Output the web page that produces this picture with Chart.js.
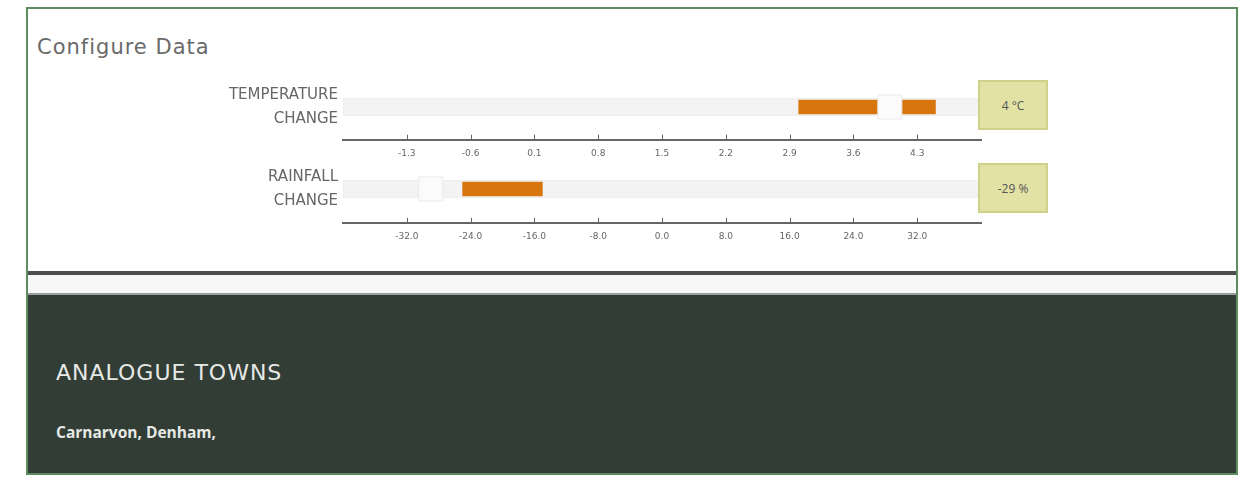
<!DOCTYPE html>
<html>
<head>
<meta charset="utf-8">
<script src="https://cdn.jsdelivr.net/npm/chart.js@4.4.1/dist/chart.umd.min.js"></script>
<style>
  body { margin: 0; background: #fff; width: 1247px; height: 487px; position: relative; overflow: hidden; font-family: "Open Sans", sans-serif; }
  .frame { position: absolute; left: 26px; top: 7px; width: 1208px; height: 464px; border: 2px solid #5e8c61; background: #fff; }
  .title { position: absolute; left: 9px; top: 26px; font-size: 21px; color: #6a6a6a; font-family: "DejaVu Sans", sans-serif; letter-spacing: 1px; }
  .chartbox { position: absolute; left: 174px; width: 797px; }
  .valbox { position: absolute; left: 950px; width: 70px; height: 50px; background: #e1e2a4; border: 2px solid #cfd08a; box-sizing: border-box;
            font-size: 12px; color: #555; display: flex; align-items: center; justify-content: center; }
  .rule { position: absolute; left: 0; top: 262px; width: 1208px; height: 4px; background: #4a4f4c; }
  .strip { position: absolute; left: 0; top: 266px; width: 1208px; height: 18px; background: #f7f7f7; border-bottom: 2px solid #9aa09c; }
  .panel { position: absolute; left: 0; top: 286px; width: 1208px; height: 178px; background: #323d35; }
  .panel h2 { position: absolute; left: 28px; top: 65px; margin: 0; font-weight: normal; font-size: 22px; color: #e6e9e6; letter-spacing: 1px; font-family: "DejaVu Sans", sans-serif; }
  .panel p { position: absolute; left: 28px; top: 126px; margin: 0; font-weight: bold; font-size: 15.5px; color: #e6e9e6; }
</style>
</head>
<body>
<div class="frame">
  <div class="title">Configure Data</div>
  <div class="chartbox" style="top:37px;height:122px"><canvas id="tempChart"></canvas></div>
  <div class="valbox" style="top:71px">4 °C</div>
  <div class="chartbox" style="top:118px;height:124px"><canvas id="rainChart"></canvas></div>
  <div class="valbox" style="top:154px">-29 %</div>
  <div class="rule"></div>
  <div class="strip"></div>
  <div class="panel">
    <h2>ANALOGUE TOWNS</h2>
    <p>Carnarvon, Denham,</p>
  </div>
</div>
<script>
// slider data
const tempLabel = ['TEMPERATURE', 'CHANGE'];
const tempRange = [-2, 5];
const tempStep = 0.7;
const tempBand = [3.0, 4.5];
const tempValue = 4;

const rainLabel = ['RAINFALL', 'CHANGE'];
const rainRange = [-40, 40];
const rainStep = 8;
const rainBand = [-25, -15];
const rainValue = -29;

// small upward tick marks above the axis line
const upTicks = {
    id: 'upTicks',
    afterDraw(chart) {
        const x = chart.scales.x;
        const ctx = chart.ctx;
        ctx.save();
        ctx.strokeStyle = '#666';
        ctx.lineWidth = 1;
        x.ticks.forEach((t, i) => {
            if (i === 0 || i === x.ticks.length - 1) return;
            const px = Math.round(x.getPixelForValue(t.value)) + 0.5;
            ctx.beginPath();
            ctx.moveTo(px, x.top - 5);
            ctx.lineTo(px, x.top);
            ctx.stroke();
        });
        ctx.restore();
    }
};

function makeSlider(id, label, range, step, band, value) {
    const ctx = document.getElementById(id).getContext('2d');
    return new Chart(ctx, {
        type: 'bar',
        plugins: [upTicks],
        data: {
            labels: [label],
            datasets: [
                {
                    type: 'scatter',
                    data: [{ x: value, y: label }],
                    pointStyle: 'rect',
                    radius: 17,
                    backgroundColor: '#fbfbfb',
                    borderColor: '#eaeaea',
                    borderWidth: 1,
                    order: 0
                },
                {
                    data: [band],
                    backgroundColor: '#d7750f',
                    barThickness: 14,
                    grouped: false,
                    order: 1
                },
                {
                    data: [range],
                    backgroundColor: '#f3f3f3',
                    borderColor: '#ececec',
                    borderWidth: 1,
                    borderSkipped: false,
                    barThickness: 18,
                    grouped: false,
                    order: 2
                }
            ]
        },
        options: {
            indexAxis: 'y',
            responsive: true,
            maintainAspectRatio: false,
            animation: false,
            layout: { padding: { top: 0, right: 2 } },
            plugins: { legend: { display: false }, tooltip: { enabled: false } },
            scales: {
                x: {
                    min: range[0],
                    max: range[1],
                    border: { color: '#666', width: 2 },
                    grid: { display: false },
                    ticks: {
                        stepSize: step,
                        autoSkip: false,
                        maxRotation: 0,
                        color: '#666',
                        font: { size: 9, family: 'DejaVu Sans' },
                        padding: 1,
                        callback: function (v, i, all) {
                            if (i === 0 || i === all.length - 1) return '';
                            return Number(v).toFixed(1);
                        }
                    }
                },
                y: {
                    border: { display: false },
                    grid: { display: false, drawTicks: false },
                    afterFit: function (s) { s.width = 141; },
                    ticks: {
                        color: '#666',
                        padding: 5,
                        font: { size: 15, family: 'DejaVu Sans', lineHeight: 1.55 }
                    }
                }
            }
        }
    });
}

makeSlider('tempChart', tempLabel, tempRange, tempStep, tempBand, tempValue);
makeSlider('rainChart', rainLabel, rainRange, rainStep, rainBand, rainValue);
</script>
</body>
</html>
